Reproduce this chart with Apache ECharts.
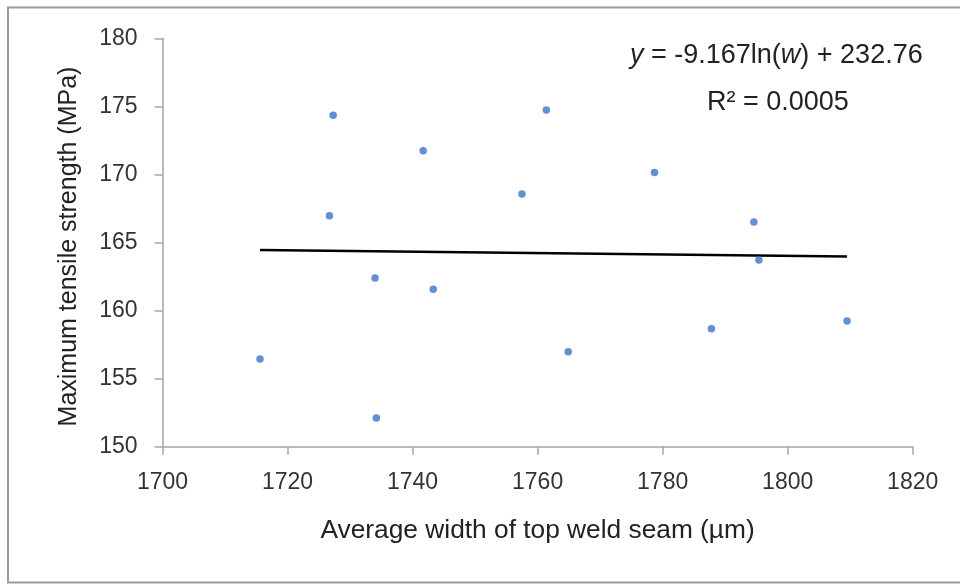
<!DOCTYPE html>
<html><head><meta charset="utf-8">
<script src="https://cdn.jsdelivr.net/npm/echarts@6/dist/echarts.min.js"></script>
<style>html,body{margin:0;padding:0;background:#fff}#c{width:960px;height:584px}</style>
</head><body><div id="c"></div>
<script>
// Data
const widths = [1715.6, 1726.7, 1727.3, 1734.0, 1734.2, 1741.7, 1743.3, 1757.5, 1761.4, 1764.9, 1778.7, 1787.8, 1794.6, 1795.4, 1809.5];
const strengths = [156.44, 166.97, 174.34, 162.39, 152.1, 171.74, 161.56, 168.56, 174.73, 156.97, 170.15, 158.66, 166.5, 163.71, 159.23];
const trendX = [1715.6, 1809.5];
const trendY = [164.45, 163.97];
const xTicks = [1700, 1720, 1740, 1760, 1780, 1800, 1820];
const yTicks = [150, 155, 160, 165, 170, 175, 180];
const xTitle = 'Average width of top weld seam (µm)';
const yTitle = 'Maximum tensile strength (MPa)';

const points = widths.map((w, i) => [w, strengths[i]]);
const trend = trendX.map((w, i) => [w, trendY[i]]);
const font = 'Liberation Sans, Arial, sans-serif';
const axisGray = '#a6a6a6';

const chart = echarts.init(document.getElementById('c'), null, {renderer: 'canvas'});
chart.setOption({
  animation: false,
  backgroundColor: '#fff',
  grid: {left: 162.5, right: 47.3, top: 38.3, bottom: 137.3, containLabel: false},
  xAxis: {
    type: 'value', min: xTicks[0], max: xTicks[xTicks.length - 1], interval: 20,
    name: xTitle, nameLocation: 'middle', nameGap: 71,
    nameTextStyle: {fontFamily: font, fontSize: 26.3, color: '#222'},
    axisLine: {show: true, lineStyle: {color: axisGray, width: 1.5}},
    axisTick: {show: true, length: 8, inside: false, lineStyle: {color: axisGray, width: 1.5}},
    axisLabel: {fontFamily: font, fontSize: 23, color: '#333', margin: 24,
      formatter: v => String(v)},
    splitLine: {show: false}
  },
  yAxis: {
    type: 'value', min: yTicks[0], max: yTicks[yTicks.length - 1], interval: 5,
    name: yTitle, nameLocation: 'middle', nameGap: 81, nameRotate: 90,
    nameTextStyle: {fontFamily: font, fontSize: 25, color: '#222', padding: [0, 8, 0, 0]},
    axisLine: {show: true, lineStyle: {color: axisGray, width: 1.5}},
    axisTick: {show: true, length: 8, inside: false, lineStyle: {color: axisGray, width: 1.5}},
    axisLabel: {fontFamily: font, fontSize: 23, color: '#333', margin: 25,
      formatter: v => String(v)},
    splitLine: {show: false}
  },
  series: [
    {type: 'scatter', data: points, symbol: 'circle', symbolSize: 7.5,
     itemStyle: {color: '#3a75c4'}, z: 3},
    {type: 'line', data: trend, symbol: 'none', lineStyle: {color: '#000', width: 2.5}, z: 2}
  ],
  graphic: [
    {type: 'rect', shape: {x: 8, y: 7.5, width: 960, height: 575},
     style: {fill: 'none', stroke: '#9a9a9a', lineWidth: 2}, silent: true},
    {type: 'text', left: 630, top: 42,
     style: {text: '{i|y} = -9.167ln({i|w}) + 232.76', font: '27px ' + font, fill: '#222',
       rich: {i: {fontStyle: 'italic', fontFamily: font, fontSize: 27, fill: '#222'}}}},
    {type: 'text', left: 707, top: 89,
     style: {text: 'R² = 0.0005', font: '27px ' + font, fill: '#222'}}
  ]
});
</script></body></html>
